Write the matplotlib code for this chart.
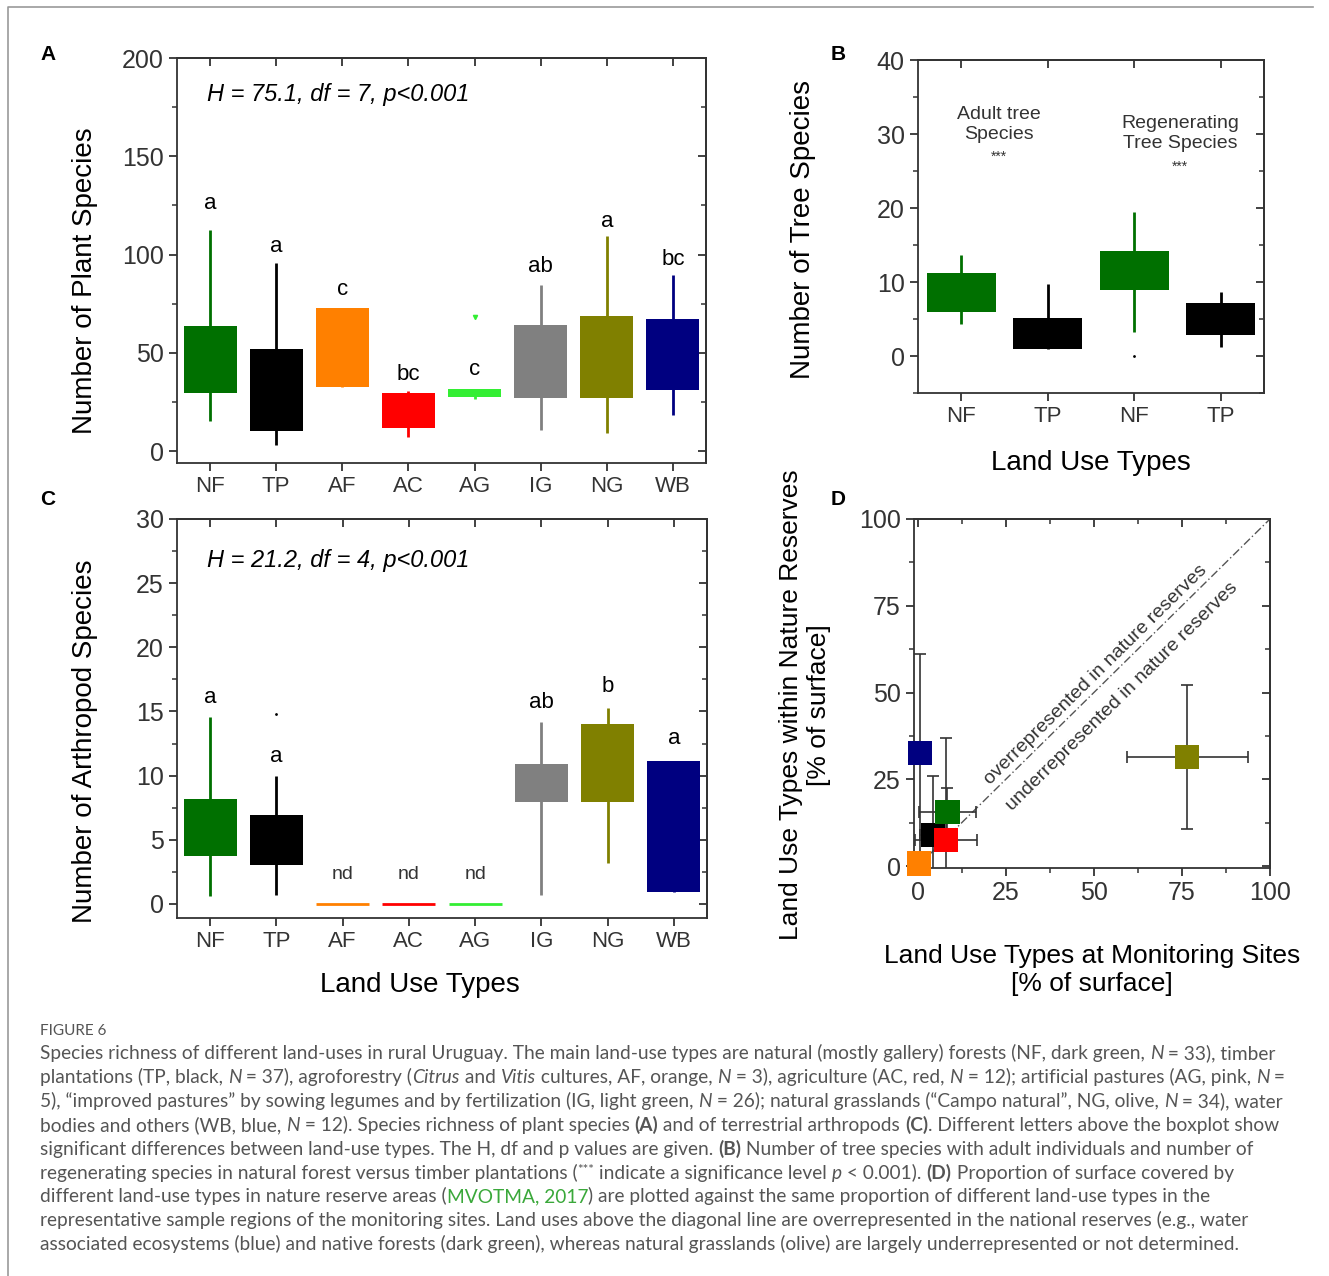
import re
import numpy as np
import matplotlib
matplotlib.use('Agg')
import matplotlib.pyplot as plt
from matplotlib.ticker import MultipleLocator
from matplotlib.lines import Line2D

plt.rcParams['font.family'] = ['Liberation Sans', 'DejaVu Sans']
plt.rcParams['axes.linewidth'] = 1.3
plt.rcParams['axes.edgecolor'] = '#333333'
plt.rcParams['xtick.color'] = '#333333'
plt.rcParams['ytick.color'] = '#333333'

# ---- data ----
land_use = ['NF', 'TP', 'AF', 'AC', 'AG', 'IG', 'NG', 'WB']
lu_colors = ['#007000', '#000000', '#ff8000', '#ff0000', '#33ee33', '#808080', '#808000', '#000080']

# (A) plant species
plant_q1 = [29.7, 10.2, 32.7, 11.9, 27.6, 27.1, 27.1, 31.0]
plant_q3 = [63.6, 52.2, 72.7, 29.7, 31.7, 64.1, 69.0, 67.0]
plant_lo = [15.3, 3.4, 32.7, 7.3, 26.3, 11.0, 9.3, 18.3]
plant_hi = [112.7, 95.8, 72.7, 30.5, 31.7, 84.7, 109.3, 89.8]
plant_out_x = ['AG']
plant_out_y = [68.3]
plant_letters = ['a', 'a', 'c', 'bc', 'c', 'ab', 'a', 'bc']
plant_letter_y = [126, 104, 82.5, 39, 41.5, 94, 117, 97.5]

# (B) tree species
tree_labels = ['NF', 'TP', 'NF', 'TP']
tree_colors = ['#007000', '#000000', '#007000', '#000000']
tree_q1 = [6.0, 0.9, 8.9, 2.9]
tree_q3 = [11.2, 5.2, 14.2, 7.2]
tree_lo = [4.3, 0.9, 3.3, 1.2]
tree_hi = [13.7, 9.7, 19.5, 8.7]
tree_out_x = [3]
tree_out_y = [0.0]

# (C) arthropod species
arth_measured = [True, True, False, False, False, True, True, True]
arth_q1 = [3.77, 3.0, 0, 0, 0, 7.95, 7.95, 0.93]
arth_q3 = [8.2, 6.96, 0, 0, 0, 10.9, 14.05, 11.1]
arth_lo = [0.6, 0.73, 0, 0, 0, 0.73, 3.2, 0.93]
arth_hi = [14.6, 9.95, 0, 0, 0, 14.2, 15.3, 11.1]
arth_out_x = ['TP']
arth_out_y = [14.8]
arth_letters = ['a', 'a', 'nd', 'nd', 'nd', 'ab', 'b', 'a']
arth_letter_y = [16.05, 11.45, 2.3, 2.3, 2.3, 15.66, 16.96, 12.86]

# (D) surface proportions
d_types = ['WB', 'TP', 'NF', 'AC', 'AF', 'NG']
d_colors = ['#000080', '#000000', '#007000', '#ff0000', '#ff8000', '#808000']
d_monitor = [0.8, 4.5, 8.5, 8.0, 0.5, 76.5]
d_reserve = [32.5, 9.0, 15.5, 7.5, 0.8, 31.5]
d_xerr = [0.0, 3.8, 8.2, 8.8, 0.0, 17.2]
d_yerr_lo = [32.0, 17.0, 7.0, 29.5, 0.0, 20.8]
d_yerr_hi = [28.5, 17.0, 7.0, 29.5, 0.0, 20.8]

W, H = 1329, 1276
fig = plt.figure(figsize=(W / 100, H / 100), dpi=100)


def frac(l, t, r, b):
    return [l / W, 1 - b / H, (r - l) / W, (b - t) / H]


def style(ax, ymaj, ymin, xminor=None):
    ax.tick_params(which='both', direction='out', top=False, right=False)
    ax.tick_params(which='major', length=6, width=1.3, labelsize=18)
    ax.tick_params(which='minor', length=3.5, width=1.1)
    ax.tick_params(axis='x', labelsize=16)
    ax.yaxis.set_major_locator(MultipleLocator(ymaj))
    ax.yaxis.set_minor_locator(MultipleLocator(ymin))
    top = ax.secondary_xaxis('top')
    top.set_xticks(ax.get_xticks())
    if xminor:
        top.xaxis.set_minor_locator(MultipleLocator(xminor))
    top.tick_params(which='both', direction='in', labeltop=False)
    top.tick_params(which='major', length=6, width=1.3)
    top.tick_params(which='minor', length=3.5, width=1.1)
    right = ax.secondary_yaxis('right')
    right.yaxis.set_major_locator(MultipleLocator(ymaj))
    right.yaxis.set_minor_locator(MultipleLocator(ymin))
    right.tick_params(which='both', direction='in', labelright=False)
    right.tick_params(which='major', length=6, width=1.3)
    right.tick_params(which='minor', length=3.5, width=1.1)


def boxes(ax, pos, q1, q3, lo, hi, cols, width=0.8):
    ax.vlines(pos, lo, hi, colors=cols, lw=2, zorder=2)
    ax.bar(pos, np.subtract(q3, q1), bottom=q1, width=width, color=cols, zorder=3)


pos8 = np.arange(1, 9)

# ---- panel A ----
axA = fig.add_axes(frac(177, 58, 706, 463))
boxes(axA, pos8, plant_q1, plant_q3, plant_lo, plant_hi, lu_colors)
axA.plot([land_use.index(k) + 1 for k in plant_out_x], plant_out_y, 'v',
         color='#33ee33', ms=3)
for p, s, y in zip(pos8, plant_letters, plant_letter_y):
    axA.text(p, y, s, ha='center', va='center', fontsize=16)
axA.text(0.95, 181.5, 'H = 75.1, df = 7, p<0.001', fontsize=17, style='italic',
         va='center')
axA.set_xlim(0.5, 8.5)
axA.set_ylim(-6, 200)
axA.set_xticks(pos8, land_use)
style(axA, 50, 25)
axA.set_ylabel('Number of Plant Species', fontsize=20, va='center')
axA.yaxis.set_label_coords(-0.174, 0.449)

# ---- panel B ----
axB = fig.add_axes(frac(918, 60, 1264, 393))
pos4 = np.arange(1, 5)
boxes(axB, pos4, tree_q1, tree_q3, tree_lo, tree_hi, tree_colors)
axB.plot(tree_out_x, tree_out_y, '.', color='#000000', ms=2)
axB.text(1.43, 31.3, 'Adult tree\nSpecies', ha='center', va='center', fontsize=14,
         color='#333333', linespacing=1.2)
axB.text(1.43, 26.9, '***', ha='center', va='center', fontsize=10, color='#333333')
axB.text(3.53, 30.1, 'Regenerating\nTree Species', ha='center', va='center', fontsize=14,
         color='#333333', linespacing=1.2)
axB.text(3.53, 25.6, '***', ha='center', va='center', fontsize=10, color='#333333')
axB.set_xlim(0.5, 4.5)
axB.set_ylim(-5, 40)
axB.set_xticks(pos4, tree_labels)
style(axB, 10, 5)
axB.set_yticks([0, 10, 20, 30, 40])
axB.set_ylim(-5, 40)
axB.set_ylabel('Number of Tree Species', fontsize=20, va='center')
axB.yaxis.set_label_coords(-0.332, 0.49)
axB.set_xlabel('Land Use Types', fontsize=20, va='center')
axB.xaxis.set_label_coords(0.5, -0.21)

# ---- panel C ----
axC = fig.add_axes(frac(177, 519, 707, 918))
m = np.array(arth_measured)
cols = np.array(lu_colors)
boxes(axC, pos8[m], np.array(arth_q1)[m], np.array(arth_q3)[m],
      np.array(arth_lo)[m], np.array(arth_hi)[m], cols[m])
axC.hlines(np.array(arth_q1)[~m], pos8[~m] - 0.4, pos8[~m] + 0.4, colors=cols[~m], lw=2,
           zorder=3)
axC.plot([land_use.index(k) + 1 for k in arth_out_x], arth_out_y, '.', color='#000000',
         ms=2)
for p, s, y in zip(pos8, arth_letters, arth_letter_y):
    if s == 'nd':
        axC.text(p, y, s, ha='center', va='center', fontsize=14, color='#333333')
    else:
        axC.text(p, y, s, ha='center', va='center', fontsize=16)
axC.text(0.95, 26.8, 'H = 21.2, df = 4, p<0.001', fontsize=17, style='italic',
         va='center')
axC.set_xlim(0.5, 8.5)
axC.set_ylim(-1.1, 30)
axC.set_xticks(pos8, land_use)
style(axC, 5, 2.5)
axC.set_ylabel('Number of Arthropod Species', fontsize=20, va='center')
axC.yaxis.set_label_coords(-0.174, 0.444)
axC.set_xlabel('Land Use Types', fontsize=20, va='center')
axC.xaxis.set_label_coords(0.458, -0.168)

# ---- panel D ----
axD = fig.add_axes(frac(914, 519, 1270, 868))
axD.plot([0, 100], [0, 100], color='#555555', lw=1, dashes=(6, 2, 1, 2), zorder=1)
axD.errorbar(d_monitor, d_reserve, xerr=d_xerr, yerr=[d_yerr_lo, d_yerr_hi], fmt='none',
             ecolor='#333333', elinewidth=1.2, capsize=4, capthick=1.2, zorder=2)
axD.scatter(d_monitor, d_reserve, marker='s', s=300, c=d_colors, zorder=4, clip_on=False,
            linewidths=0)
axD.text(50.6, 55.1, 'overrepresented in nature reserves', rotation=45,
         transform_rotates_text=True, rotation_mode='anchor', ha='center', va='center',
         fontsize=14, color='#333333')
axD.text(58.0, 48.9, 'underrepresented in nature reserves', rotation=45,
         transform_rotates_text=True, rotation_mode='anchor', ha='center', va='center',
         fontsize=14, color='#333333')
axD.set_xlim(-1, 100)
axD.set_ylim(-0.5, 100)
axD.xaxis.set_major_locator(MultipleLocator(25))
axD.xaxis.set_minor_locator(MultipleLocator(12.5))
style(axD, 25, 12.5, xminor=12.5)
axD.tick_params(axis='x', labelsize=18)
axD.set_ylabel('Land Use Types within Nature Reserves\n[% of surface]', fontsize=19,
               va='center', linespacing=1.2)
axD.yaxis.set_label_coords(-0.306, 0.467)
axD.set_xlabel('Land Use Types at Monitoring Sites\n[% of surface]', fontsize=19,
               va='center', linespacing=1.2)
axD.xaxis.set_label_coords(0.5, -0.292)

# panel letters
for s, x, y in [('A', 40, 55), ('B', 831, 55), ('C', 40, 500), ('D', 831, 500)]:
    fig.text(x / W, 1 - y / H, s, fontsize=15, weight='bold', va='center')

# frame of the screenshot
fig.add_artist(Line2D([8 / W, 8 / W, 1313 / W], [0, 1 - 7 / H, 1 - 7 / H],
                      color='#999999', lw=1.2, transform=fig.transFigure))

# ---- caption ----
caption = [
    "Species richness of different land-uses in rural Uruguay. The main land-use types are natural (mostly gallery) forests (NF, dark green, *N* = 33), timber",
    "plantations (TP, black, *N* = 37), agroforestry (*Citrus* and *Vitis* cultures, AF, orange, *N* = 3), agriculture (AC, red, *N* = 12); artificial pastures (AG, pink, *N* =",
    "5), \u201cimproved pastures\u201d by sowing legumes and by fertilization (IG, light green, *N* = 26); natural grasslands (\u201cCampo natural\u201d, NG, olive, *N* = 34), water",
    "bodies and others (WB, blue, *N* = 12). Species richness of plant species **(A)** and of terrestrial arthropods **(C)**. Different letters above the boxplot show",
    "significant differences between land-use types. The H, df and p values are given. **(B)** Number of tree species with adult individuals and number of",
    "regenerating species in natural forest versus timber plantations (^***^ indicate a significance level *p* < 0.001). **(D)** Proportion of surface covered by",
    "different land-use types in nature reserve areas ([MVOTMA, 2017]) are plotted against the same proportion of different land-use types in the",
    "representative sample regions of the monitoring sites. Land uses above the diagonal line are overrepresented in the national reserves (e.g., water",
    "associated ecosystems (blue) and native forests (dark green), whereas natural grasslands (olive) are largely underrepresented or not determined.",
]
cap_font = 'Lato'
cap_size = 13.8
cap_color = '#555555'
renderer = fig.canvas.get_renderer()


def text_width(s, **kw):
    t = fig.text(0, 0, '|' + s + '|', **kw)
    w = t.get_window_extent(renderer).width
    t.remove()
    t = fig.text(0, 0, '||', **kw)
    w -= t.get_window_extent(renderer).width
    t.remove()
    return w


def rich_line(line, y_px):
    x = 40.0
    for part in re.split(r'(\^.+?\^|\*\*.+?\*\*|\*.+?\*|\[.+?\])', line):
        if not part:
            continue
        kw = dict(family=cap_font, fontsize=cap_size, color=cap_color)
        dy = 0
        if part.startswith('^'):
            part = part[1:-1]
            kw['fontsize'] = cap_size * 0.7
            dy = 5
        elif part.startswith('**'):
            part = part[2:-2]
            kw['weight'] = 'bold'
        elif part.startswith('*'):
            part = part[1:-1]
            kw['style'] = 'italic'
        elif part.startswith('['):
            part = part[1:-1]
            kw['color'] = '#3aa83a'
        fig.text(x / W, 1 - (y_px - dy) / H, part, va='baseline', **kw)
        x += text_width(part, **kw)


fig.text(40 / W, 1 - 1035 / H, 'FIGURE 6', family=cap_font, fontsize=11,
         color=cap_color, va='baseline')
for i, line in enumerate(caption):
    rich_line(line, 1059 + i * 23.9)

fig.savefig('out.png', dpi=100)
